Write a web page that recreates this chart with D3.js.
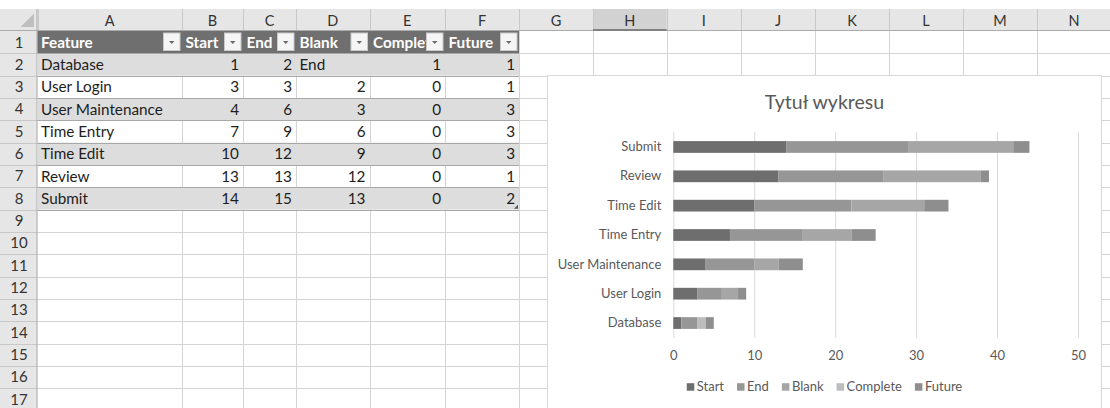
<!DOCTYPE html>
<html>
<head>
<meta charset="utf-8">
<script src="https://cdn.jsdelivr.net/npm/d3@7"></script>
<style>
html,body{margin:0;padding:0;background:#fff;overflow:hidden;}
svg{display:block;font-family:Lato,"Open Sans",sans-serif;}
</style>
</head>
<body>
<script>
// ---- data (as typed in the sheet) ----
var features = ['Database','User Login','User Maintenance','Time Entry','Time Edit','Review','Submit'];
var startVals = [1,3,4,7,10,13,14];
var endVals = [2,3,6,9,12,13,15];
var blankVals = ['End',2,3,6,9,12,13];
var completeVals = [1,0,0,0,0,0,0];
var futureVals = [1,1,3,3,3,1,2];
var tableHeaders = ['Feature','Start','End','Blank','Complete','Future'];
var seriesNames = ['Start','End','Blank','Complete','Future'];
var xTicks = [0,10,20,30,40,50];
var colLetters = ['A','B','C','D','E','F','G','H','I','J','K','L','M','N'];
var rowNumbers = [1,2,3,4,5,6,7,8,9,10,11,12,13,14,15,16,17];
var chartTitle = 'Tytuł wykresu';

// ---- sheet layout ----
var W = 1110, H = 408;
var colEdges = [0,37.5,182,243,296,369.5,445,519,593,666.5,741,815,889,963,1037,1111];
var hdrTop = 9, hdrBot = 31, rowH = 22.33;
function rowTop(r){ return hdrBot + (r-1)*rowH; }
function px(v){ return Math.round(v) + 0.5; }

var svg = d3.select('body').append('svg')
	.attr('width',W)
	.attr('height',H);

svg.append('rect').attr('width',W).attr('height',H).attr('fill','#fff');

// cell gridlines
var grid = svg.append('g').attr('stroke','#d4d4d4').attr('stroke-width',1);
grid.selectAll('line.v')
	.data(colEdges.slice(2))
	.enter().append('line')
	.attr('x1',px).attr('x2',px)
	.attr('y1',hdrBot).attr('y2',H);
grid.selectAll('line.h')
	.data(d3.range(2,19))
	.enter().append('line')
	.attr('x1',37.5).attr('x2',W)
	.attr('y1',function(r){return px(rowTop(r));})
	.attr('y2',function(r){return px(rowTop(r));});

// column header strip
var colHdr = svg.append('g');
colHdr.append('rect').attr('x',0).attr('y',hdrTop).attr('width',W).attr('height',hdrBot-hdrTop).attr('fill','#e6e6e6');
colHdr.append('rect').attr('x',colEdges[8]).attr('y',hdrTop).attr('width',colEdges[9]-colEdges[8]).attr('height',hdrBot-hdrTop).attr('fill','#d2d2d2');
colHdr.selectAll('line')
	.data(colEdges.slice(1))
	.enter().append('line')
	.attr('x1',px).attr('x2',px)
	.attr('y1',hdrTop).attr('y2',hdrBot)
	.attr('stroke','#c8c8c8');
colHdr.append('line').attr('x1',0).attr('x2',W).attr('y1',hdrBot-0.5).attr('y2',hdrBot-0.5).attr('stroke','#ababab');
colHdr.append('line').attr('x1',colEdges[8]).attr('x2',colEdges[9]).attr('y1',hdrBot-1).attr('y2',hdrBot-1).attr('stroke','#808080').attr('stroke-width',2);
colHdr.selectAll('text')
	.data(colLetters)
	.enter().append('text')
	.attr('x',function(d,i){return (colEdges[i+1]+colEdges[i+2])/2;})
	.attr('y',25.5)
	.attr('text-anchor','middle')
	.attr('font-size',14.5)
	.attr('fill','#333')
	.text(function(d){return d;});

// row header strip
var rowHdr = svg.append('g');
rowHdr.append('rect').attr('x',0).attr('y',hdrBot).attr('width',37.5).attr('height',H-hdrBot).attr('fill','#e6e6e6');
rowHdr.selectAll('line')
	.data(d3.range(2,19))
	.enter().append('line')
	.attr('x1',0).attr('x2',37.5)
	.attr('y1',function(r){return px(rowTop(r));})
	.attr('y2',function(r){return px(rowTop(r));})
	.attr('stroke','#c8c8c8');
rowHdr.append('line').attr('x1',37).attr('x2',37).attr('y1',hdrTop).attr('y2',H).attr('stroke','#ababab');
rowHdr.selectAll('text')
	.data(rowNumbers)
	.enter().append('text')
	.attr('x',19)
	.attr('y',function(d){return rowTop(d)+16.5;})
	.attr('text-anchor','middle')
	.attr('font-size',15)
	.attr('fill','#333')
	.text(function(d){return d;});
// select-all corner
svg.append('path').attr('d','M20.5,27 L34,27 L34,13.5 Z').attr('fill','#bfbfbf');

// ---- table A1:F8 ----
var tableRows = features.map(function(f,i){
	return [f,startVals[i],endVals[i],blankVals[i],completeVals[i],futureVals[i]];
});
var table = svg.append('g');
var tL = colEdges[1], tR = colEdges[7];
table.append('rect').attr('x',tL).attr('y',rowTop(1)).attr('width',tR-tL).attr('height',rowH).attr('fill','#6f6f6f');
tableRows.forEach(function(row,i){
	if(i%2===0){
		table.append('rect').attr('x',tL).attr('y',rowTop(i+2)).attr('width',tR-tL).attr('height',rowH).attr('fill','#dddddd');
	}
});
table.selectAll('line.sep')
	.data(d3.range(2,10))
	.enter().append('line')
	.attr('x1',tL).attr('x2',tR)
	.attr('y1',function(r){return px(rowTop(r));})
	.attr('y2',function(r){return px(rowTop(r));})
	.attr('stroke','#a8a8a8');

var defs = svg.append('defs');
tableHeaders.forEach(function(h,j){
	var x0 = colEdges[j+1], x1 = colEdges[j+2], y0 = rowTop(1);
	defs.append('clipPath').attr('id','hc'+j)
		.append('rect').attr('x',x0).attr('y',y0).attr('width',x1-x0).attr('height',rowH);
	table.append('text')
		.attr('clip-path','url(#hc'+j+')')
		.attr('x',x0+3.5).attr('y',y0+16.5)
		.attr('font-size',15.3).attr('font-weight','bold')
		.attr('fill','#fff')
		.text(h);
	// filter button
	var bx = x1-18.5, by = y0+2;
	table.append('rect').attr('x',bx).attr('y',by).attr('width',16.5).attr('height',17.5)
		.attr('fill','#f5f5f5').attr('stroke','#c9c9c9');
	table.append('path')
		.attr('d','M'+(bx+5.5)+','+(by+8)+' l5.5,0 l-2.75,3 Z')
		.attr('fill','#6a6a6a');
});

tableRows.forEach(function(row,i){
	var y0 = rowTop(i+2);
	row.forEach(function(v,j){
		var x0 = colEdges[j+1], x1 = colEdges[j+2];
		var isNum = typeof v === 'number';
		table.append('text')
			.attr('x',isNum ? x1-4 : x0+3.5)
			.attr('y',y0+16.7)
			.attr('text-anchor',isNum ? 'end' : 'start')
			.attr('font-size',15.3)
			.attr('fill','#1e1e1e')
			.text(v);
	});
});
// table resize handle
table.append('path').attr('d','M'+(tR-1)+','+(rowTop(9)-5)+' l0,4 l-4,0 Z').attr('fill','#555');

// ---- chart ----
var chart = svg.append('g');
var cL = 547.5, cR = 1101.5, cT = 75.5;
chart.append('rect').attr('x',cL).attr('y',cT).attr('width',cR-cL).attr('height',H+10-cT)
	.attr('fill','#fff').attr('stroke','#d9d9d9');

chart.append('text')
	.attr('x',(cL+cR)/2).attr('y',108.5)
	.attr('text-anchor','middle')
	.attr('font-size',19.5)
	.attr('fill','#595959')
	.text(chartTitle);

var plotTop = 132.3, plotBot = 337.7;
var x = d3.scaleLinear().domain([0,50]).range([673.3,1078]);
var y = d3.scaleBand().domain(features.slice().reverse()).range([plotTop,plotBot])
	.paddingInner(0.6).paddingOuter(0.3);
var color = d3.scaleOrdinal().domain(seriesNames)
	.range(['#6e6e6e','#969696','#a6a6a6','#bdbdbd','#8e8e8e']);

var gridAxis = chart.append('g')
	.attr('transform','translate(0,'+plotBot+')')
	.call(d3.axisBottom(x).tickValues(xTicks).tickSize(-(plotBot-plotTop)).tickFormat(''));
gridAxis.select('.domain').remove();
gridAxis.selectAll('line').attr('stroke','#d9d9d9');

var tickAxis = chart.append('g')
	.attr('transform','translate(0,'+plotBot+')')
	.attr('font-family',null).attr('font-size',null)
	.call(d3.axisBottom(x).tickValues(xTicks).tickSize(0).tickPadding(13));
tickAxis.select('.domain').remove();
tickAxis.attr('font-family',null).attr('font-size',null);
tickAxis.selectAll('text').attr('font-size',13).attr('fill','#595959');

var catAxis = chart.append('g')
	.attr('transform','translate(673.3,0)')
	.call(d3.axisLeft(y).tickSize(0).tickPadding(12));
catAxis.select('.domain').remove();
catAxis.attr('font-family',null).attr('font-size',null);
catAxis.selectAll('text').attr('font-size',13).attr('fill','#595959');

var stackRows = features.map(function(f,i){
	return {Feature:f, Start:startVals[i], End:endVals[i], Blank:+blankVals[i]||0,
		Complete:completeVals[i], Future:futureVals[i]};
});
var stacked = d3.stack().keys(seriesNames)(stackRows);

chart.append('g').selectAll('g')
	.data(stacked)
	.enter().append('g')
	.attr('fill',function(d){return color(d.key);})
	.selectAll('rect')
	.data(function(d){return d;})
	.enter().append('rect')
	.attr('x',function(d){return x(d[0]);})
	.attr('width',function(d){return x(d[1])-x(d[0]);})
	.attr('y',function(d){return y(d.data.Feature);})
	.attr('height',y.bandwidth());

// legend
var legend = chart.append('g').attr('transform','translate(0,386.7)');
var items = legend.selectAll('g')
	.data(seriesNames)
	.enter().append('g');
items.append('rect').attr('width',7.5).attr('height',7.5).attr('y',-3.5)
	.attr('fill',function(d){return color(d);});
items.append('text').attr('x',10).attr('y',4.6)
	.attr('font-size',13).attr('fill','#595959')
	.text(function(d){return d;});
var offs = [], acc = 0;
items.each(function(){
	offs.push(acc);
	acc += 10 + d3.select(this).select('text').node().getComputedTextLength() + 13;
});
acc -= 13;
var lx = (cL+cR)/2 - acc/2;
items.attr('transform',function(d,i){return 'translate('+(lx+offs[i])+',0)';});
</script>
</body>
</html>
